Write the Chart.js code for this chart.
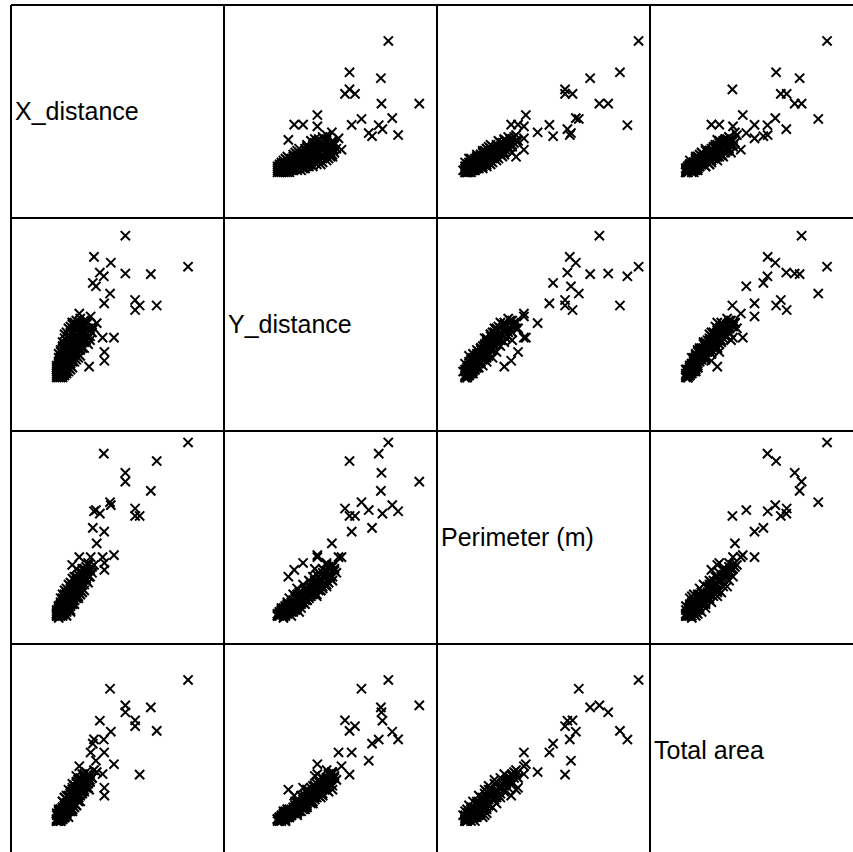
<!DOCTYPE html>
<html>
<head>
<meta charset="utf-8">
<script src="https://cdn.jsdelivr.net/npm/chart.js@4.4.1/dist/chart.umd.min.js"></script>
<style>
  html, body { margin: 0; padding: 0; background: #fff; overflow: hidden; width: 853px; height: 852px; }
  #matrix { position: absolute; left: 11px; top: 5px; width: 852px; height: 852px; }
  .cell { position: absolute; width: 213px; height: 213px; }
  .cell canvas { position: absolute; left: 0; top: 0; }
  .label { position: absolute; left: 4px; top: 0; height: 213px; display: flex; align-items: center;
           font: 25px "Liberation Sans", Arial, sans-serif; color: #000; white-space: nowrap; }
  .vline { position: absolute; top: 0; width: 2px; height: 852px; background: #000; margin-left: -1px; z-index: 2; }
  .hline { position: absolute; left: 0; height: 2px; width: 852px; background: #000; margin-top: -1px; z-index: 2; }
</style>
</head>
<body>
<div id="matrix"></div>
<script>
// variable names shown on the diagonal
const variableNames = ['X_distance', 'Y_distance', 'Perimeter (m)', 'Total area'];

// values as % of each panel's range
// first line: outlying points, then the dense cluster near the lower left
const xDistance = [
  86, 54, 38, 46.6, 41, 43, 54, 67, 37.4, 39, 46.2, 43.2, 59, 61.3, 59, 70, 30.5, 36.3, 26.9, 39.4, 42.4, 48.2, 43.3, 43.3, 35.5,
  19, 20, 19, 21, 20, 22, 19, 21, 20, 23, 19, 21, 22, 20, 24, 20, 22, 21, 19, 23,
  21, 22, 23, 20, 24, 22, 25, 21, 23, 26, 24, 22, 20, 25, 27, 23, 21, 24, 26, 22,
  22, 24, 26, 28, 23, 25, 27, 29, 21, 24, 26, 28, 30, 25, 27, 23, 29, 31, 22, 26,
  24, 27, 29, 31, 22, 25, 28, 30, 32, 26, 29, 33, 23, 27, 31, 30, 34, 28, 32, 35,
  25, 33, 36, 30, 34, 37, 29, 36, 32, 27, 33, 35, 31, 38, 29,
  20, 21, 22, 19, 23, 20, 24, 21, 22, 25, 19, 23, 21, 24, 26, 20, 22, 25, 27, 23,
  21, 26, 28, 24, 22, 27, 25, 29, 30, 23, 28, 26, 31, 24, 29, 33, 27, 32, 30, 34,
  28, 35, 31, 36, 33, 37, 26, 34, 20, 22, 24, 26, 28, 30, 32, 25, 21, 23, 27, 29,
  21, 23, 20, 24, 22, 26, 25, 28, 27, 30, 29, 31, 24, 26, 23, 32, 28, 33, 30, 35
];
const yDistance = [
  79.5, 95.3, 84.5, 81.5, 76.5, 74.6, 76, 75.7, 71.2, 69.5, 65.8, 60.8, 62.5, 59.7, 57.4, 59.7, 55.6, 54.1, 51, 50.7, 43.3, 43.3, 36, 31.5, 28.5,
  23, 24, 25, 23, 26, 24, 27, 25, 23, 25, 24, 27, 26, 28, 25, 25, 23, 24, 26, 24,
  29, 28, 27, 30, 27, 31, 28, 32, 30, 27, 30, 33, 31, 31, 28, 32, 34, 29, 30, 29,
  35, 34, 33, 31, 37, 36, 34, 32, 36, 38, 37, 35, 33, 39, 38, 40, 36, 34, 38, 35,
  42, 41, 39, 37, 41, 44, 43, 40, 38, 46, 44, 41, 45, 47, 43, 46, 42, 48, 45, 40,
  48, 47, 44, 50, 48, 46, 47, 42, 49, 50, 52, 51, 53, 48, 52,
  27, 26, 25, 28, 26, 29, 26, 30, 27, 26, 29, 28, 31, 28, 29, 33, 30, 33, 31, 35,
  37, 32, 33, 36, 39, 36, 41, 34, 37, 43, 40, 43, 40, 46, 42, 38, 45, 44, 48, 45,
  51, 43, 51, 47, 50, 49, 49, 51, 35, 33, 32, 38, 38, 42, 41, 37, 28, 29, 33, 45,
  27, 29, 26, 31, 28, 33, 32, 36, 35, 39, 38, 41, 30, 34, 33, 44, 41, 46, 44, 48
];
const perimeter = [
  98.5, 78.5, 63.4, 66.5, 62.2, 92.8, 83, 73.8, 54.9, 64, 68, 53, 61, 61, 64.8, 89, 40, 40, 36, 47, 40, 41, 37, 33.5, 30,
  10, 11, 11, 11, 12, 12, 11, 12, 10, 13, 10, 13, 12, 12, 13, 11, 11, 11, 11, 12,
  14, 13, 14, 13, 14, 15, 15, 15, 15, 15, 16, 16, 14, 17, 16, 16, 16, 15, 16, 14,
  17, 18, 18, 18, 18, 19, 19, 19, 17, 20, 20, 20, 20, 21, 21, 20, 21, 21, 18, 19,
  22, 23, 23, 23, 21, 23, 24, 24, 24, 25, 25, 26, 23, 26, 26, 28, 28, 28, 29, 27,
  26, 31, 30, 31, 33, 32, 30, 34, 34, 29, 33, 36, 32, 36, 34,
  13, 10, 14, 12, 11, 15, 12, 16, 10, 14, 13, 16, 12, 17, 13, 15, 17, 14, 18, 16,
  19, 20, 16, 21, 19, 17, 22, 22, 19, 21, 25, 20, 21, 24, 27, 23, 23, 27, 25, 29,
  30, 31, 28, 33, 30, 35, 27, 35, 14, 18, 13, 22, 18, 26, 22, 16, 14, 12, 21, 28,
  15, 19, 9, 21, 11, 24, 14, 26, 17, 28, 20, 30, 10, 12, 20, 32, 22, 34, 25, 37
];
const totalArea = [
  86, 73, 55.7, 59.6, 65.2, 55.6, 69.5, 72, 53.5, 44.8, 81.5, 49, 62.4, 37.7, 65.4, 60, 42, 49, 30, 39, 38, 43, 31, 27, 30,
  14, 15, 14, 15, 15, 16, 15, 16, 15, 16, 14, 16, 17, 16, 17, 15, 15, 14, 15, 16,
  17, 18, 18, 17, 18, 19, 19, 18, 19, 19, 20, 19, 18, 20, 20, 20, 19, 18, 19, 18,
  21, 22, 22, 21, 21, 23, 23, 22, 20, 23, 24, 23, 24, 24, 25, 23, 25, 24, 21, 22,
  25, 26, 26, 27, 24, 27, 28, 27, 28, 28, 29, 29, 26, 30, 30, 31, 32, 32, 33, 31,
  30, 34, 34, 35, 36, 36, 34, 37, 38, 33, 36, 38, 35, 40, 37,
  14, 17, 15, 17, 18, 16, 19, 17, 16, 16, 18, 16, 19, 18, 20, 20, 17, 21, 19, 22,
  20, 20, 23, 21, 24, 24, 23, 22, 26, 26, 25, 28, 29, 27, 27, 30, 31, 29, 33, 31,
  32, 33, 36, 35, 38, 36, 29, 39, 19, 18, 21, 22, 26, 26, 30, 24, 16, 18, 20, 28,
  14, 16, 17, 18, 20, 21, 24, 23, 27, 26, 30, 29, 19, 22, 17, 31, 32, 33, 35, 36
];

const columns = [xDistance, yDistance, perimeter, totalArea];
const CELL = 213;
const matrix = document.getElementById('matrix');

function makePoints(xs, ys) {
  return xs.map((x, i) => ({ x, y: ys[i] }));
}

for (let row = 0; row < 4; row++) {
  for (let col = 0; col < 4; col++) {
    const cell = document.createElement('div');
    cell.className = 'cell';
    cell.style.left = `${col * CELL}px`;
    cell.style.top = `${row * CELL}px`;
    matrix.appendChild(cell);

    if (row === col) {
      const label = document.createElement('div');
      label.className = 'label';
      label.textContent = variableNames[row];
      cell.appendChild(label);
      continue;
    }

    const canvas = document.createElement('canvas');
    canvas.width = CELL;
    canvas.height = CELL;
    cell.appendChild(canvas);

    new Chart(canvas, {
      type: 'scatter',
      data: {
        datasets: [{
          data: makePoints(columns[col], columns[row]),
          pointStyle: 'crossRot',
          pointRadius: 6.5,
          borderColor: '#000',
          backgroundColor: '#000',
          borderWidth: 2,
          clip: false,
        }],
      },
      options: {
        responsive: false,
        animation: false,
        events: [],
        layout: { padding: 0 },
        plugins: { legend: { display: false }, tooltip: { enabled: false } },
        scales: {
          x: { type: 'linear', display: false, min: 0, max: 100 },
          y: { type: 'linear', display: false, min: 0, max: 100 },
        },
      },
    });
  }
}

// grid lines between panels
for (let i = 0; i <= 4; i++) {
  const v = document.createElement('div');
  v.className = 'vline';
  v.style.left = `${i * CELL}px`;
  matrix.appendChild(v);
  const h = document.createElement('div');
  h.className = 'hline';
  h.style.top = `${i * CELL}px`;
  matrix.appendChild(h);
}
</script>
</body>
</html>
